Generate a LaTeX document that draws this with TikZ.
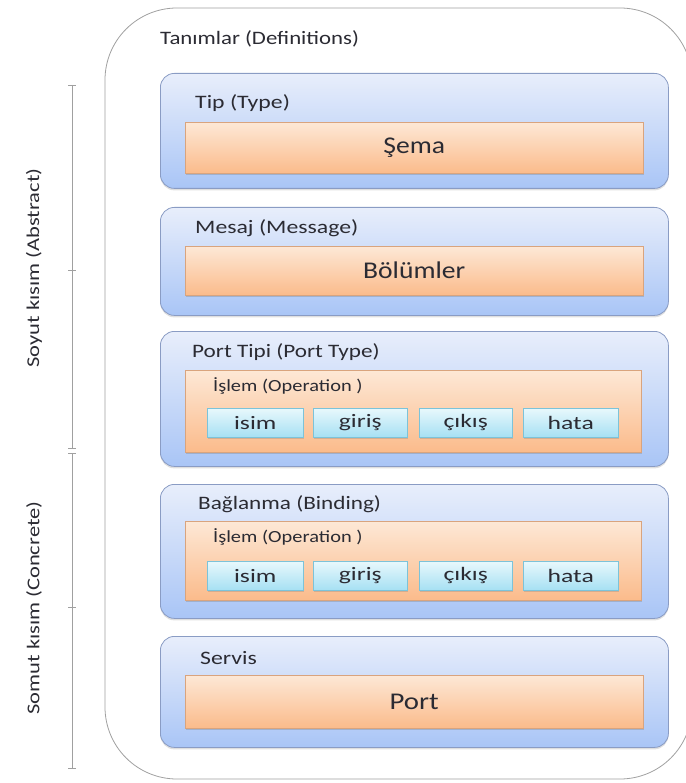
\documentclass[tikz,border=0pt]{standalone}
\usepackage{graphicx}
\usepackage{fontspec}
\setmainfont{Carlito}
\usetikzlibrary{shadows}
\definecolor{bluetop}{HTML}{E8EEFB}
\definecolor{bluebot}{HTML}{A9C5F6}
\definecolor{blueedge}{HTML}{8A9CC4}
\definecolor{ortop}{HTML}{FDE8D6}
\definecolor{orbot}{HTML}{FBBB8B}
\definecolor{oredge}{HTML}{D9A47E}
\definecolor{cytop}{HTML}{E8F8FC}
\definecolor{cybot}{HTML}{A6E0F3}
\definecolor{cyedge}{HTML}{7CC3D9}
\definecolor{txt}{HTML}{2B2B33}
\definecolor{brk}{HTML}{A0A0A0}
\newcommand\wtxt[2]{\scalebox{#1}[1]{#2}}
\begin{document}
\begin{tikzpicture}[x=1pt,y=-1pt,
  outerbox/.style={draw=brk, line width=0.8pt, rounded corners=72pt},
  bluebox/.style={draw=blueedge, line width=0.8pt, rounded corners=14pt, top color=bluetop, bottom color=bluebot,
    drop shadow={shadow xshift=0pt, shadow yshift=-2pt, opacity=0.25}, anchor=north west, inner sep=0pt},
  orbox/.style={draw=oredge, line width=0.5pt, top color=ortop, bottom color=orbot,
    drop shadow={shadow xshift=1pt, shadow yshift=-2pt, opacity=0.35}, anchor=north west, inner sep=0pt, text=txt},
  cybox/.style={draw=cyedge, line width=0.5pt, top color=cytop, bottom color=cybot,
    drop shadow={shadow xshift=1pt, shadow yshift=-1.5pt, opacity=0.3}, anchor=north west, inner sep=0pt,
    minimum height=29pt, text=txt, font=\fontsize{19}{22}\selectfont},
  lbl/.style={anchor=west, inner sep=0pt, text=txt, font=\fontsize{19}{22}\selectfont},
  big/.style={font=\fontsize{24}{27}\selectfont},
  side/.style={rotate=90, inner sep=0pt, text=txt, font=\fontsize{18}{21}\selectfont},
  brkline/.style={draw=brk, line width=1pt}
]
\useasboundingbox (0,0) rectangle (685,783);
% outer
\draw[outerbox] (105,8) rectangle (692,779);
\node[lbl] (tan) at (160,39) {\wtxt{1.2}{Tanımlar (Definitions)}};

% left brackets
\coordinate (a1) at (72,85);
\coordinate (a2) at (72,448);
\coordinate (am) at (72,270);
\coordinate (c1) at (72,453);
\coordinate (c2) at (72,768);
\coordinate (cm) at (72,607);
\draw[brkline] (a1) -- (a2);
\draw[brkline] (c1) -- (c2);
\foreach \p in {a1,a2,am,c1,c2,cm}{
  \draw[draw=brk, line width=0.8pt] ([xshift=-4pt]\p) -- ([xshift=4pt]\p);
}
\node[side] (abs) at (34,268) {\wtxt{1.25}{Soyut kısım (Abstract)}};
\node[side] (con) at (34,608) {\wtxt{1.25}{Somut kısım (Concrete)}};

% Tip
\node[bluebox, minimum width=508pt, minimum height=115pt] (tip) at (160,73) {};
\node[lbl] (tipl) at (195,103) {\wtxt{1.25}{Tip (Type)}};
\node[orbox, minimum width=458pt, minimum height=51pt, big] (sema) at (185,122) {\wtxt{1.15}{Şema}};

% Mesaj
\node[bluebox, minimum width=508pt, minimum height=108pt] (mesaj) at (160,207) {};
\node[lbl] (mesajl) at (195,228) {\wtxt{1.25}{Mesaj (Message)}};
\node[orbox, minimum width=458pt, minimum height=49pt, big] (bol) at (185,246) {\wtxt{1.15}{Bölümler}};

% Port Tipi
\node[bluebox, minimum width=508pt, minimum height=135pt] (pt) at (160,331) {};
\node[lbl] (ptl) at (192,352) {\wtxt{1.22}{Port Tipi (Port Type)}};
\node[orbox, minimum width=456pt, minimum height=82pt] (op1) at (185,370) {};
\node[lbl, font=\fontsize{17}{20}\selectfont] (op1l) at (213,386) {\wtxt{1.2}{İşlem (Operation )}};
\node[cybox, minimum width=96pt] (i1) at (207,408) {\wtxt{1.35}{isim}};
\node[cybox, minimum width=94pt] (g1) at (313,408) {\wtxt{1.35}{giriş}};
\node[cybox, minimum width=93pt] (c1b) at (419,408) {\wtxt{1.35}{çıkış}};
\node[cybox, minimum width=95pt] (h1) at (523,408) {\wtxt{1.35}{hata}};

% Baglanma
\node[bluebox, minimum width=508pt, minimum height=134pt] (bin) at (160,484) {};
\node[lbl] (binl) at (198,504) {\wtxt{1.22}{Bağlanma (Binding)}};
\node[orbox, minimum width=456pt, minimum height=79pt] (op2) at (185,521) {};
\node[lbl, font=\fontsize{17}{20}\selectfont] (op2l) at (213,537) {\wtxt{1.2}{İşlem (Operation )}};
\node[cybox, minimum width=96pt] (i2) at (207,561) {\wtxt{1.35}{isim}};
\node[cybox, minimum width=94pt] (g2) at (313,561) {\wtxt{1.35}{giriş}};
\node[cybox, minimum width=93pt] (c2b) at (419,561) {\wtxt{1.35}{çıkış}};
\node[cybox, minimum width=95pt] (h2) at (523,561) {\wtxt{1.35}{hata}};

% Servis
\node[bluebox, minimum width=508pt, minimum height=111pt] (ser) at (160,636) {};
\node[lbl] (serl) at (200,658) {\wtxt{1.25}{Servis}};
\node[orbox, minimum width=458pt, minimum height=53pt, big] (port) at (185,675) {\wtxt{1.2}{Port}};
\end{tikzpicture}
\end{document}
